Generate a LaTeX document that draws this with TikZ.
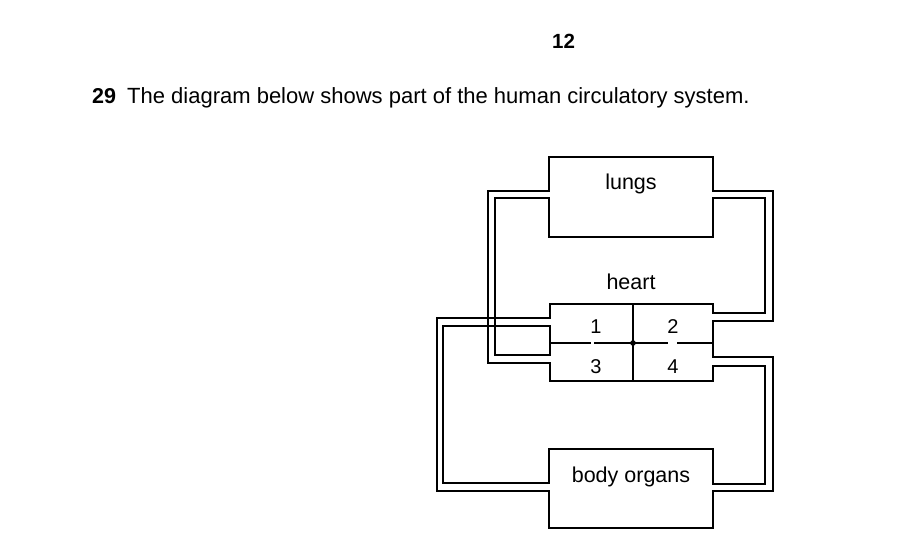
\documentclass[tikz,border=0pt]{standalone}
\usepackage{fontspec}
\setmainfont{Liberation Sans}
\begin{document}
\begin{tikzpicture}[x=1pt,y=-1pt,
  wall/.style={line width=2pt, line cap=rect, line join=miter},
  lbl/.style={anchor=base, inner sep=0pt, font=\fontsize{21.5}{25}\selectfont},
  num/.style={anchor=base, inner sep=0pt, font=\fontsize{20}{24}\selectfont}]
\useasboundingbox[fill=white] (0,0) rectangle (916,538);

% heading text
\node[anchor=base, inner sep=0pt, font=\bfseries\fontsize{20.5}{24}\selectfont] (pg) at (563.5,48) {12};
\node[anchor=base west, inner sep=0pt, font=\bfseries\fontsize{21.5}{25}\selectfont] (qn) at (92,103) {29};
\node[anchor=base west, inner sep=0pt, font=\fontsize{22}{26}\selectfont] (qt) at (127,103) {The diagram below shows part of the human circulatory system.};

% lungs box (openings on both sides)
\draw[wall] (549,191) -- (549,157) -- (713,157) -- (713,191);
\draw[wall] (549,198) -- (549,237) -- (713,237) -- (713,198);
\node[lbl] (lungs) at (631,189) {lungs};

% pipes lungs <-> heart
\draw[wall] (549,191) -- (488,191) -- (488,363) -- (550,363);
\draw[wall] (549,198) -- (495,198) -- (495,355) -- (550,355);
\draw[wall] (713,191) -- (773,191) -- (773,321) -- (713,321);
\draw[wall] (713,198) -- (765,198) -- (765,313) -- (713,313);

% heart
\node[lbl] (heart) at (631,289) {heart};
\draw[wall] (550,318) -- (550,304) -- (713,304) -- (713,313);
\draw[wall] (550,326) -- (550,355);
\draw[wall] (550,363) -- (550,381) -- (713,381) -- (713,366);
\draw[wall] (713,321) -- (713,357);
\draw[wall] (633,304) -- (633,381);
\draw[wall] (550,343) -- (590,343);
\draw[wall] (595,343) -- (667,343);
\draw[wall] (678,343) -- (713,343);
\fill (633,343) circle (2.8pt);
\node[num] (c1) at (596,333) {1};
\node[num] (c2) at (673,333) {2};
\node[num] (c3) at (596,373) {3};
\node[num] (c4) at (673,373) {4};

% pipes heart <-> body organs
\draw[wall] (550,318) -- (437,318) -- (437,491) -- (549,491);
\draw[wall] (550,326) -- (443,326) -- (443,483) -- (549,483);
\draw[wall] (713,357) -- (773,357) -- (773,491) -- (713,491);
\draw[wall] (713,366) -- (765,366) -- (765,484) -- (713,484);

% body organs box
\draw[wall] (549,483) -- (549,449) -- (713,449) -- (713,484);
\draw[wall] (549,491) -- (549,528) -- (713,528) -- (713,491);
\node[lbl] (body) at (631,482) {body organs};
\end{tikzpicture}
\end{document}
